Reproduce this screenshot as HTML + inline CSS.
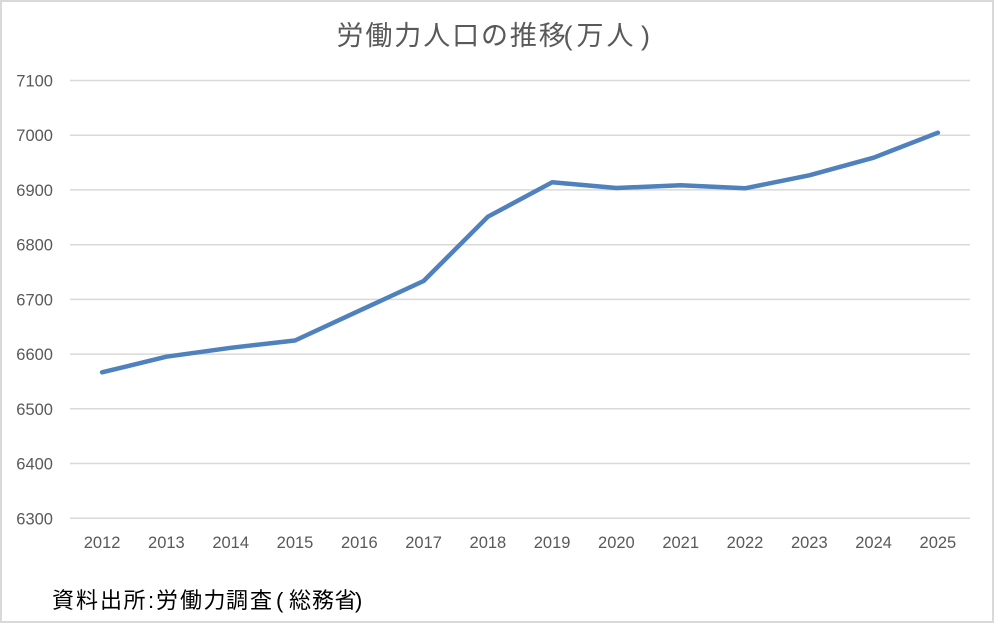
<!DOCTYPE html>
<html>
<head>
<meta charset="utf-8">
<style>
html,body{margin:0;padding:0;background:#fff;}
body{width:994px;height:623px;overflow:hidden;}
svg{display:block;}
</style>
</head>
<body>
<svg width="994" height="623" viewBox="0 0 994 623" xmlns="http://www.w3.org/2000/svg">
  <rect x="1" y="1" width="992" height="621" fill="#fff" stroke="#d9d9d9" stroke-width="2"/>
  <text y="45" font-family="'Liberation Sans','Noto Sans CJK JP',sans-serif" font-size="27" fill="#595959"><tspan x="336.5">労</tspan><tspan x="365.4">働</tspan><tspan x="394.3">力</tspan><tspan x="423.2">人</tspan><tspan x="452.1">口</tspan><tspan x="481">の</tspan><tspan x="509.9">推</tspan><tspan x="538.8">移</tspan><tspan x="563.5">(</tspan><tspan x="576.5">万</tspan><tspan x="606.5">人</tspan><tspan x="641">)</tspan></text>
  <g stroke="#d9d9d9" stroke-width="1.5">
    <line x1="70" y1="80.5" x2="970" y2="80.5"/>
    <line x1="70" y1="135.2" x2="970" y2="135.2"/>
    <line x1="70" y1="189.9" x2="970" y2="189.9"/>
    <line x1="70" y1="244.7" x2="970" y2="244.7"/>
    <line x1="70" y1="299.4" x2="970" y2="299.4"/>
    <line x1="70" y1="354.1" x2="970" y2="354.1"/>
    <line x1="70" y1="408.8" x2="970" y2="408.8"/>
    <line x1="70" y1="463.5" x2="970" y2="463.5"/>
    <line x1="70" y1="518.3" x2="970" y2="518.3"/>
  </g>
  <g font-family="'Liberation Sans',sans-serif" font-size="16.5" fill="#595959" text-anchor="end">
    <text x="53" y="86.5">7100</text>
    <text x="53" y="141.2">7000</text>
    <text x="53" y="195.9">6900</text>
    <text x="53" y="250.7">6800</text>
    <text x="53" y="305.4">6700</text>
    <text x="53" y="360.1">6600</text>
    <text x="53" y="414.8">6500</text>
    <text x="53" y="469.5">6400</text>
    <text x="53" y="524.3">6300</text>
  </g>
  <g font-family="'Liberation Sans',sans-serif" font-size="16.5" fill="#595959" text-anchor="middle">
    <text x="102.1" y="548">2012</text>
    <text x="166.4" y="548">2013</text>
    <text x="230.7" y="548">2014</text>
    <text x="295" y="548">2015</text>
    <text x="359.3" y="548">2016</text>
    <text x="423.6" y="548">2017</text>
    <text x="487.9" y="548">2018</text>
    <text x="552.1" y="548">2019</text>
    <text x="616.4" y="548">2020</text>
    <text x="680.7" y="548">2021</text>
    <text x="745" y="548">2022</text>
    <text x="809.3" y="548">2023</text>
    <text x="873.6" y="548">2024</text>
    <text x="937.9" y="548">2025</text>
  </g>
  <polyline fill="none" stroke="#4f81bd" stroke-width="4.5" stroke-linejoin="round" stroke-linecap="round"
    points="102.1,372.3 166.4,356.7 230.7,347.8 295,340.5 359.3,310.7 423.6,281 487.9,216.7 552.1,182.3 616.4,188 680.7,185.3 745,188.3 809.3,175.3 873.6,157.7 937.9,132.7"/>
  <text y="608" font-family="'Liberation Sans','Noto Sans CJK JP',sans-serif" font-size="22" fill="#000"><tspan x="52">資</tspan><tspan x="76">料</tspan><tspan x="100">出</tspan><tspan x="123.5">所</tspan><tspan x="148">:</tspan><tspan x="156">労</tspan><tspan x="180">働</tspan><tspan x="203.5">力</tspan><tspan x="226">調</tspan><tspan x="250">査</tspan><tspan x="276">(</tspan><tspan x="289">総</tspan><tspan x="312">務</tspan><tspan x="334.5">省</tspan><tspan x="355">)</tspan></text>
</svg>
</body>
</html>
